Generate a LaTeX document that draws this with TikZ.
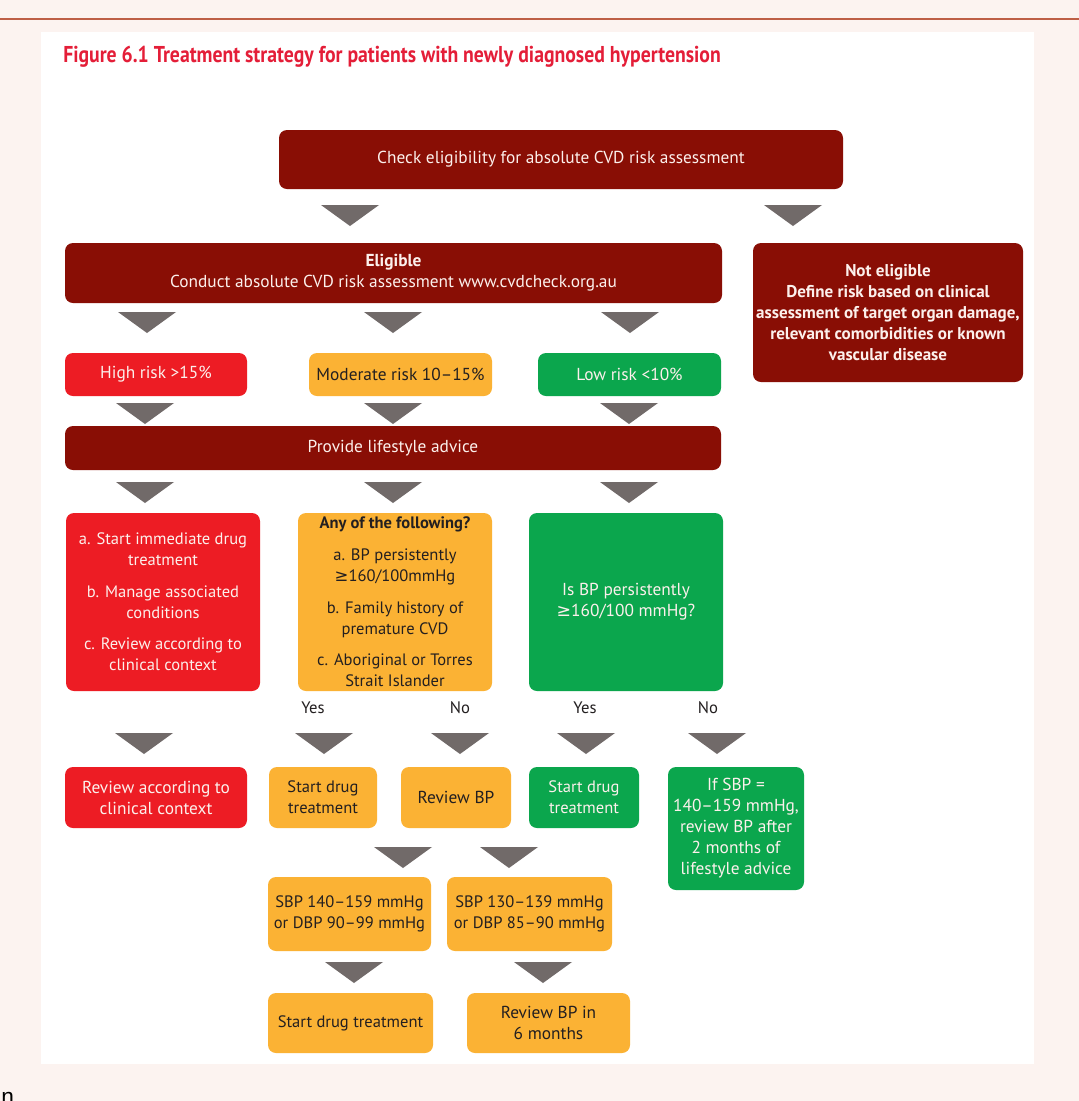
\documentclass[tikz,border=0pt]{standalone}
\usepackage{fontspec}
\setmainfont{PT Sans}
\newfontfamily\symfont{DejaVu Sans}
\newfontfamily\condfont[FakeStretch=0.86]{PT Sans}
\newfontfamily\nfont{Liberation Sans}
\newcommand\GE{{\symfont\char"2265}}
\definecolor{bgpink}{RGB}{252,243,240}
\definecolor{dred}{RGB}{137,14,5}
\definecolor{hred}{RGB}{237,28,36}
\definecolor{oran}{RGB}{251,178,52}
\definecolor{gree}{RGB}{11,166,77}
\definecolor{tricol}{RGB}{113,106,105}
\definecolor{txt}{RGB}{35,31,32}
\definecolor{tred}{RGB}{228,30,56}
\definecolor{topl}{RGB}{190,95,70}
\definecolor{wtxt}{RGB}{252,240,236}
\tikzset{
  base/.style={rounded corners=6pt, inner sep=0pt, align=center, font=\fontsize{13}{15.75}\selectfont},
  small/.style={font=\fontsize{12.4}{15.75}\selectfont},
  dbox/.style={base, fill=dred, text=wtxt},
  rbox/.style={base, fill=hred, text=wtxt},
  obox/.style={base, fill=oran, text=txt},
  gbox/.style={base, fill=gree, text=wtxt},
  lbl/.style={inner sep=0pt, text=txt, font=\fontsize{12.5}{14}\selectfont},
  tri/.style={fill=tricol}
}
\newcommand\bx[7]{%
  \pgfmathsetmacro\cx{(#2+#4)/2}%
  \pgfmathsetmacro\cy{(#3+#5)/2}%
  \pgfmathsetmacro\ww{(#4-#2)*0.75}%
  \pgfmathsetmacro\hh{(#5-#3)*0.75}%
  \node[#6, minimum width=\ww pt, minimum height=\hh pt] (#1) at (\cx,\cy) {#7};}
\newcommand\tri[2]{\fill[tri] ({#1-29},#2) -- ({#1+29},#2) -- (#1,{#2+21}) -- cycle;}
\begin{document}
\begin{tikzpicture}[x=0.75pt,y=-0.75pt]
\useasboundingbox (0,0) rectangle (1079,1101);
\clip (0,0) rectangle (1079,1101);
\fill[bgpink] (0,0) rectangle (1079,1101);
\draw[topl, line width=1.5pt] (0,19) -- (1079,19);
\fill[white] (41,32) rectangle (1034,1064);
\node[anchor=west, inner sep=0pt, text=tred, font=\condfont\bfseries\fontsize{17.2}{20}\selectfont] (title) at (63,57) {Figure 6.1 Treatment strategy for patients with newly diagnosed hypertension};

\bx{check}{279}{130}{843}{189}{dbox}{Check eligibility for absolute CVD risk assessment}
\tri{350}{205}\tri{793}{205}
\bx{elig}{65}{243}{722}{303}{dbox}{\textbf{Eligible}\\ Conduct absolute CVD risk assessment www.cvdcheck.org.au}
\bx{notel}{753}{243}{1023}{382}{dbox,font=\bfseries\fontsize{12.8}{15.75}\selectfont}{Not eligible\\ Define risk based on clinical\\ assessment of target organ damage,\\ relevant comorbidities or known\\ vascular disease}
\tri{147}{312}\tri{393}{312}\tri{630}{312}
\bx{high}{65}{353}{247}{396}{rbox}{High risk >15\%}
\bx{mod}{309}{353}{492}{396}{obox}{Moderate risk 10–15\%}
\bx{low}{538}{353}{721}{396}{gbox}{Low risk <10\%}
\tri{145}{403}\tri{393}{403}\tri{629}{403}
\bx{life}{65}{426}{721}{470}{dbox}{Provide lifestyle advice}
\tri{145}{482}\tri{393}{482}\tri{629}{482}
\bx{hact}{66}{513}{260}{691}{rbox,small}{a. Start immediate drug\\ treatment\\[8pt] b. Manage associated\\ conditions\\[8pt] c. Review according to\\ clinical context}
\bx{mq}{298}{513}{492}{691}{obox,small}{\textbf{Any of the following?}\\[8pt] a. BP persistently\\ \GE160/100mmHg\\[8pt] b. Family history of\\ premature CVD\\[8pt] c. Aboriginal or Torres\\ Strait Islander}
\bx{lq}{529}{513}{723}{691}{gbox}{Is BP persistently\\ \GE160/100 mmHg?}
\node[lbl] (yes1) at (313,708) {Yes};
\node[lbl] (no1) at (460,708) {No};
\node[lbl] (yes2) at (585,708) {Yes};
\node[lbl] (no2) at (708,708) {No};
\tri{144}{733}\tri{324}{733}\tri{460}{733}\tri{586}{733}\tri{717}{733}
\bx{hrev}{65}{767}{247}{828}{rbox}{Review according to\\ clinical context}
\bx{mstart}{269}{767}{377}{828}{obox,small}{Start drug\\ treatment}
\bx{mrev}{401}{767}{511}{828}{obox}{Review BP}
\bx{lstart}{529}{767}{639}{828}{gbox,small}{Start drug\\ treatment}
\bx{lrev}{668}{767}{804}{890}{gbox}{If SBP =\\ 140–159 mmHg,\\ review BP after\\ 2 months of\\ lifestyle advice}
\tri{403}{847}\tri{509}{847}
\bx{s1}{268}{877}{431}{951}{obox,small}{SBP 140–159 mmHg\\ or DBP 90–99 mmHg}
\bx{s2}{447}{877}{612}{951}{obox,small}{SBP 130–139 mmHg\\ or DBP 85–90 mmHg}
\tri{354}{962}\tri{543}{962}
\bx{f1}{268}{993}{433}{1053}{obox,small}{Start drug treatment}
\bx{f2}{467}{993}{630}{1053}{obox}{Review BP in\\ 6 months}
\node[anchor=base west, inner sep=0pt, font=\nfont\fontsize{17}{17}\selectfont] (ntext) at (1,1104) {n};
\end{tikzpicture}
\end{document}
